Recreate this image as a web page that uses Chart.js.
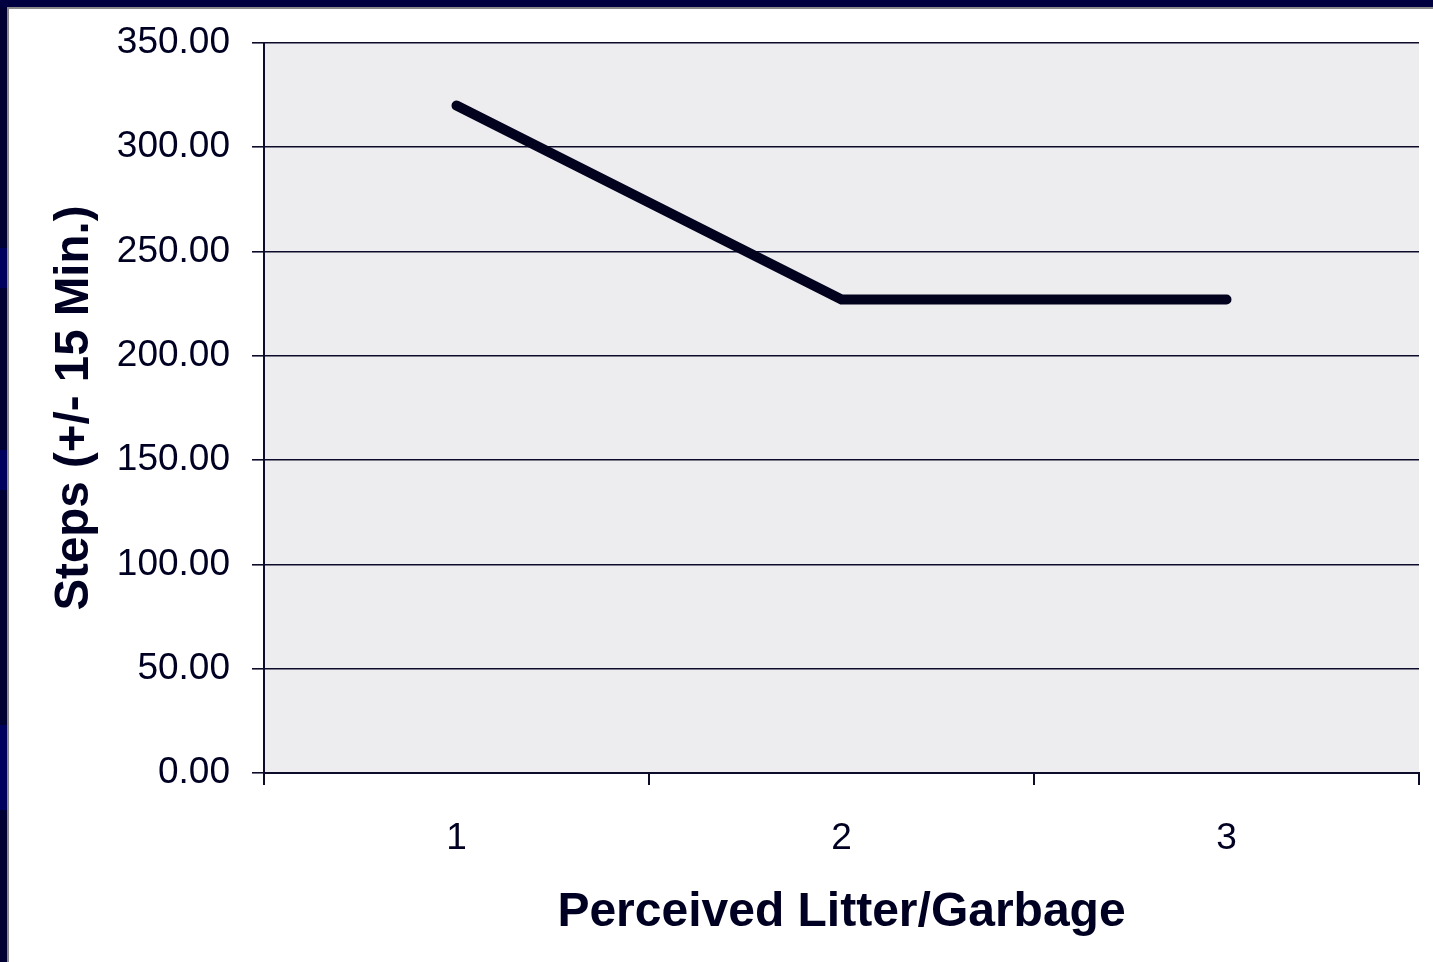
<!DOCTYPE html>
<html>
<head>
<meta charset="utf-8">
<script src="https://cdn.jsdelivr.net/npm/chart.js@4.4.0/dist/chart.umd.min.js"></script>
<style>
  html, body { margin: 0; padding: 0; }
  body {
    width: 1433px; height: 962px; overflow: hidden; position: relative;
    background: linear-gradient(to bottom,
      #000033 0px, #000033 248px, #00005e 248px, #00005e 288px,
      #000033 288px, #000033 450px, #00005e 450px, #00005e 490px,
      #000033 490px, #000033 725px, #00005e 725px, #00005e 810px,
      #000033 810px, #000033 962px);
  }
  #top { position: absolute; left: 0; top: 0; width: 1433px; height: 7px; background: #000040; }
  #frame {
    position: absolute; left: 7px; top: 7px; width: 1426px; height: 955px;
    background: #ffffff; border-left: 2px solid #8a8a8a; border-top: 2px solid #8a8a8a;
    box-sizing: border-box;
  }
  #wrap { position: absolute; left: 9px; top: 9px; width: 1424px; height: 953px; }
</style>
</head>
<body>
<div id="top"></div>
<div id="frame"></div>
<div id="wrap"><canvas id="c" width="1424" height="953"></canvas></div>
<script>
const categories = ["1", "2", "3"];
const stepsValues = [320, 227, 227];
const yTickValues = [0, 50, 100, 150, 200, 250, 300, 350];
const xAxisTitle = "Perceived Litter/Garbage";
const yAxisTitle = "Steps (+/- 15 Min.)";

const textColor = "#000022";
const lineColor = "#0c0c2a";
const fontFamily = "'Liberation Sans', Arial, sans-serif";

const plotBg = {
  id: "plotBg",
  beforeDraw(chart) {
    const { ctx, chartArea: a } = chart;
    ctx.save();
    ctx.fillStyle = "#EDEDF0";
    ctx.fillRect(a.left, a.top, a.right - a.left, a.bottom - a.top);
    ctx.restore();
  }
};

new Chart(document.getElementById("c"), {
  type: "line",
  data: {
    labels: categories,
    datasets: [{
      data: stepsValues,
      borderColor: "#02021e",
      borderWidth: 10,
      borderCapStyle: "round",
      borderJoinStyle: "miter",
      pointRadius: 0,
      tension: 0,
      fill: false
    }]
  },
  options: {
    responsive: false,
    animation: false,
    layout: { padding: { left: 0, right: 14, top: 34, bottom: 0 } },
    plugins: { legend: { display: false }, tooltip: { enabled: false } },
    scales: {
      x: {
        type: "category",
        offset: true,
        grid: { offset: true, drawOnChartArea: false, drawTicks: true, tickLength: 12, color: lineColor, lineWidth: 2 },
        border: { display: true, color: lineColor, width: 2 },
        ticks: { color: textColor, font: { family: fontFamily, size: 37 }, padding: 32, maxRotation: 0 },
        title: { display: true, text: xAxisTitle, color: textColor, font: { family: fontFamily, size: 48, weight: "bold" }, padding: { top: 0, bottom: 20 } },
        afterFit(s) { s.height = 189; }
      },
      y: {
        min: 0, max: 350,
        afterBuildTicks(s) { s.ticks = yTickValues.map(v => ({ value: v })); },
        grid: { color: lineColor, lineWidth: 1.6, tickLength: 12, drawTicks: true },
        border: { display: true, color: lineColor, width: 2 },
        ticks: { color: textColor, font: { family: fontFamily, size: 37 }, padding: 22, callback: v => Number(v).toFixed(2) },
        title: { display: true, text: yAxisTitle, color: textColor, font: { family: fontFamily, size: 47.5, weight: "bold" }, padding: { top: 37, bottom: 0 } },
        afterFit(s) { s.width = 255; s.paddingTop = 0; s.paddingBottom = 0; }
      }
    }
  },
  plugins: [plotBg]
});
</script>
</body>
</html>
